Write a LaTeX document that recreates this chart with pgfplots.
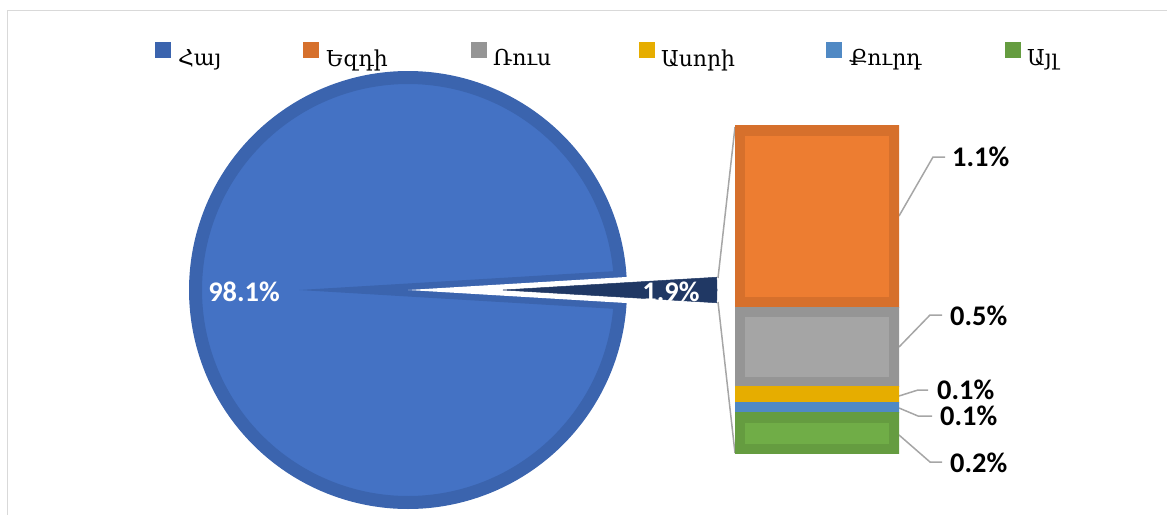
\documentclass[border=0pt]{standalone}
\usepackage{pgfplots}
\pgfplotsset{compat=1.18}
\usepackage{fontspec}
\setmainfont{Carlito}
\newfontfamily\armfont{DejaVu Serif}
\definecolor{pieF}{HTML}{4472C4}
\definecolor{pieB}{HTML}{3B64AE}
\definecolor{navy}{HTML}{203864}
\definecolor{orF}{HTML}{ED7D31}
\definecolor{orB}{HTML}{D6702C}
\definecolor{grF}{HTML}{A5A5A5}
\definecolor{grB}{HTML}{959595}
\definecolor{yeF}{HTML}{E6AD00}
\definecolor{blF}{HTML}{5089C4}
\definecolor{gnF}{HTML}{70AD47}
\definecolor{gnB}{HTML}{659C40}
\definecolor{lead}{HTML}{A6A6A6}
\definecolor{frame}{HTML}{D9D9D9}
\tikzset{inborder/.style={draw=none, path picture={%
  \pgfsetlinewidth{20bp}\pgfsetstrokecolor{#1}%
  \pgfpathrectanglecorners{\pgfpointanchor{path picture bounding box}{south west}}{\pgfpointanchor{path picture bounding box}{north east}}%
  \pgfusepath{stroke}}}}
\begin{document}
\begin{tikzpicture}
% ---------------- pie (98.1% / 1.9%), pixel-like coordinates -------------
\begin{axis}[scale only axis, width=1167bp, height=515bp,
  xmin=0, xmax=1167, ymin=0, ymax=515, y dir=reverse,
  hide axis, clip=false,
  legend columns=6,
  legend image code/.code={\fill[#1, draw=none] (0bp,0bp) rectangle (16bp,16bp);},
  legend style={at={(axis cs:155,55)}, anchor=west, draw=none, fill=none,
    inner sep=0pt, outer sep=0pt,
    /tikz/every even column/.append style={column sep=0pt},
    nodes={inner sep=0pt},
    font=\armfont\fontsize{22}{26}\selectfont},
]
\addlegendimage{fill=pieB}
\addlegendentry{\makebox[132bp][l]{\hspace{7bp}Հայ}}
\addlegendimage{fill=orB}
\addlegendentry{\makebox[152bp][l]{\hspace{7bp}Եզդի}}
\addlegendimage{fill=grB}
\addlegendentry{\makebox[152bp][l]{\hspace{6bp}Ռուս}}
\addlegendimage{fill=yeF}
\addlegendentry{\makebox[171bp][l]{\hspace{6bp}Ասորի}}
\addlegendimage{fill=blF}
\addlegendentry{\makebox[163bp][l]{\hspace{7bp}Քուրդ}}
\addlegendimage{fill=gnB}
\addlegendentry{\makebox[60bp][l]{\hspace{6bp}Այլ}}

% frame
\draw[frame, line width=1.5bp] (axis cs:7.5,515) -- (axis cs:7.5,10.5) -- (axis cs:1167,10.5);

% main slice 98.1% : angles 1.9*1.8 = 3.42 .. 356.58
\addplot[fill=pieF, draw=pieB, line width=13bp, line join=miter, miter limit=60,
  domain=3.42:356.58, samples=360, variable=\t]
  ({408+212.5*cos(\t)},{290+212.5*sin(\t)}) -- (axis cs:408,290) -- cycle;
% gap left by the exploded slice
\addplot[fill=white, draw=none] coordinates {(408,290) (648,275.7) (648,304.3)} -- cycle;
% exploded slice 1.9%
\addplot[fill=navy, draw=navy, line width=0.5bp, domain=-3.42:3.42, samples=30, variable=\t]
  ({503+214*cos(\t)},{290+214*sin(\t)}) -- (axis cs:503,290) -- cycle;

% connectors to bar
\draw[lead, line width=1.5bp] (axis cs:718,278) -- (axis cs:735,127);
\draw[lead, line width=1.5bp] (axis cs:718,302) -- (axis cs:735,453);

% leader lines
\draw[lead, line width=1.5bp] (axis cs:899,216) -- (axis cs:933,157) -- (axis cs:945,157);
\draw[lead, line width=1.5bp] (axis cs:899,347) -- (axis cs:930,315) -- (axis cs:942,315);
\draw[lead, line width=1.5bp] (axis cs:899,396) -- (axis cs:918,390) -- (axis cs:928,390);
\draw[lead, line width=1.5bp] (axis cs:899,408) -- (axis cs:918,416) -- (axis cs:932,416);
\draw[lead, line width=1.5bp] (axis cs:899,435) -- (axis cs:930,462) -- (axis cs:942,462);

% labels
\tikzset{lab/.style={font=\bfseries\fontsize{28.5}{30}\selectfont, inner sep=0pt,
  text height=18bp, text depth=0bp}}
\node[lab, text=white] at (axis cs:244,292) {98.1\%};
\node[lab, text=white] at (axis cs:671,292) {1.9\%};
\node[lab, anchor=west] at (axis cs:952,157) {1.1\%};
\node[lab, anchor=west] at (axis cs:950,316) {0.5\%};
\node[lab, anchor=west] at (axis cs:937,390) {0.1\%};
\node[lab, anchor=west] at (axis cs:940,416) {0.1\%};
\node[lab, anchor=west] at (axis cs:950,463) {0.2\%};
\end{axis}

% ---------------- bar of the 1.9% ----------------
\begin{axis}[at={(735bp,61bp)}, anchor=south west, scale only axis,
  width=164bp, height=328bp, xmin=-0.5, xmax=0.5, ymin=0, ymax=1.9,
  hide axis, ybar stacked, bar width=164bp, clip=false]
\addplot[fill=gnF, inborder=gnB] coordinates {(0,0.24)}; % Այլ
\addplot[fill=blF, inborder=blF] coordinates {(0,0.06)}; % Քուրդ
\addplot[fill=yeF, inborder=yeF] coordinates {(0,0.09)}; % Ասորի
\addplot[fill=grF, inborder=grB] coordinates {(0,0.46)}; % Ռուս
\addplot[fill=orF, inborder=orB] coordinates {(0,1.05)}; % Եզդի
\end{axis}
\pgfresetboundingbox
\useasboundingbox (0,0) rectangle (1167bp,515bp);
\end{tikzpicture}
\end{document}
